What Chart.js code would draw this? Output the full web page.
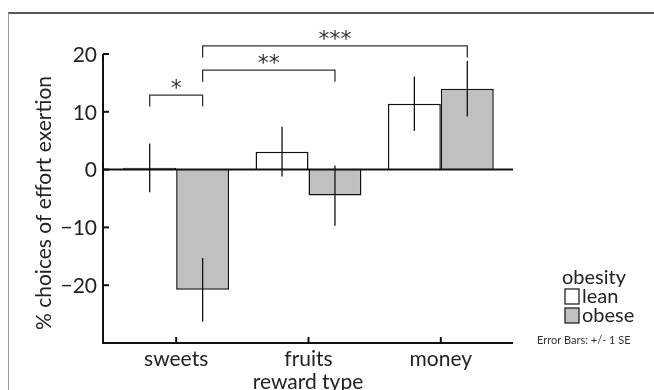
<!DOCTYPE html>
<html>
<head>
<meta charset="utf-8">
<script src="https://cdn.jsdelivr.net/npm/chart.js@4"></script>
<style>
  html, body { margin: 0; padding: 0; background: #fff; }
  #wrap { position: relative; width: 654px; height: 390px; overflow: hidden; }
  #frame { position: absolute; left: 8px; top: 12px; width: 700px; height: 400px;
           border-top: 2px solid #555; border-left: 1px solid #999; }
  canvas { position: absolute; left: 0; top: 0; }
</style>
</head>
<body>
<div id="wrap">
  <div id="frame"></div>
  <canvas id="chartCanvas" width="654" height="390"></canvas>
</div>
<script>
// values
const categories = ['sweets', 'fruits', 'money'];
const leanValues = [0.3, 3.1, 11.4];
const obeseValues = [-20.8, -4.5, 14.0];
const leanSE = [4.2, 4.3, 4.7];
const obeseSE = [5.5, 5.2, 4.8];
const yTicks = [20, 10, 0, -10, -20];
const seriesNames = ['lean', 'obese'];

const FONT = 'Lato, "Open Sans", sans-serif';
const AXIS_X = 103;   // y axis line
const AXIS_R = 513;   // right end of x axis

// significance brackets: [category, series] -> [category, series]
const brackets = [
  { from: [0, 0], to: [0, 1], top: 12.9, leg: 2.0, label: '*' },
  { from: [0, 1], to: [1, 1], top: 17.2, leg: 2.0, label: '**' },
  { from: [0, 1], to: [2, 1], top: 21.4, leg: 2.0, label: '***' }
];

const axesPlugin = {
  id: 'axesPlugin',
  afterDraw(chart) {
    const ctx = chart.ctx;
    const y = chart.scales.y;
    const area = chart.chartArea;
    const barX = (cat, s) => chart.getDatasetMeta(s).data[cat].x;

    ctx.save();
    ctx.strokeStyle = '#111';
    ctx.fillStyle = '#222';

    // error bars
    ctx.lineWidth = 1.3;
    [[leanValues, leanSE], [obeseValues, obeseSE]].forEach(([vals, se], s) => {
      vals.forEach((v, i) => {
        const x = barX(i, s);
        ctx.beginPath();
        ctx.moveTo(x, y.getPixelForValue(v + se[i]));
        ctx.lineTo(x, y.getPixelForValue(v - se[i]));
        ctx.stroke();
      });
    });

    // zero line
    ctx.lineWidth = 2;
    ctx.beginPath();
    ctx.moveTo(AXIS_X, y.getPixelForValue(0));
    ctx.lineTo(AXIS_R, y.getPixelForValue(0));
    ctx.stroke();

    // axes
    const top = y.getPixelForValue(yTicks[0]);
    const bottom = area.bottom;
    ctx.beginPath();
    ctx.moveTo(AXIS_X, top);
    ctx.lineTo(AXIS_X, bottom);
    ctx.lineTo(AXIS_R, bottom);
    ctx.stroke();

    // y ticks and labels
    ctx.font = '21px ' + FONT;
    ctx.textAlign = 'right';
    ctx.textBaseline = 'middle';
    yTicks.forEach(t => {
      const py = y.getPixelForValue(t);
      ctx.beginPath();
      ctx.moveTo(AXIS_X, py);
      ctx.lineTo(AXIS_X + 6, py);
      ctx.stroke();
      ctx.fillText(t < 0 ? '\u2212' + Math.abs(t) : String(t), AXIS_X - 6, py + 1);
    });

    // x ticks and labels
    ctx.textAlign = 'center';
    ctx.textBaseline = 'alphabetic';
    categories.forEach((c, i) => {
      const px = chart.scales.x.getPixelForValue(i);
      ctx.beginPath();
      ctx.moveTo(px, bottom);
      ctx.lineTo(px, bottom - 6);
      ctx.stroke();
      ctx.fillText(c, px, 366);
    });
    ctx.fillText('reward type', 308, 389);

    // y title
    ctx.save();
    ctx.translate(51, 203);
    ctx.rotate(-Math.PI / 2);
    ctx.textAlign = 'center';
    ctx.fillText('% choices of effort exertion', 0, 0);
    ctx.restore();

    // significance brackets
    ctx.lineWidth = 1.3;
    ctx.strokeStyle = '#333';
    brackets.forEach(b => {
      const x1 = barX(b.from[0], b.from[1]);
      const x2 = barX(b.to[0], b.to[1]);
      const yt = y.getPixelForValue(b.top);
      const yl = y.getPixelForValue(b.top - b.leg);
      ctx.beginPath();
      ctx.moveTo(x1, yl);
      ctx.lineTo(x1, yt);
      ctx.lineTo(x2, yt);
      ctx.lineTo(x2, yl);
      ctx.stroke();
      ctx.font = '22px "DejaVu Sans", sans-serif';
      ctx.textAlign = 'center';
      ctx.fillStyle = '#333';
      ctx.fillText(b.label, (x1 + x2) / 2, yt);
    });

    // legend
    ctx.fillStyle = '#222';
    ctx.textAlign = 'left';
    ctx.font = '20px ' + FONT;
    ctx.fillText('obesity', 562, 284);
    ctx.lineWidth = 1.3;
    ctx.strokeStyle = '#222';
    const fills = ['#ffffff', '#c0c0c0'];
    seriesNames.forEach((n, i) => {
      const by = 289 + i * 19;
      ctx.fillStyle = fills[i];
      ctx.fillRect(565, by, 14, 15);
      ctx.strokeRect(565, by, 14, 15);
      ctx.fillStyle = '#222';
      ctx.fillText(n, 582, by + 14);
    });
    ctx.font = '11px "Liberation Sans Narrow", ' + FONT;
    ctx.fillStyle = '#333';
    ctx.fillText('Error Bars: +/- 1 SE', 537, 344);
    ctx.restore();
  }
};

const ctx = document.getElementById('chartCanvas').getContext('2d');
new Chart(ctx, {
  type: 'bar',
  data: {
    labels: categories,
    datasets: [
      { label: seriesNames[0], data: leanValues, backgroundColor: '#ffffff',
        borderColor: '#111', borderWidth: 1.5 },
      { label: seriesNames[1], data: obeseValues, backgroundColor: '#c0c0c0',
        borderColor: '#111', borderWidth: 1.5 }
    ]
  },
  options: {
    responsive: false,
    animation: false,
    layout: { padding: { left: 110, right: 147, top: 54, bottom: 47 } },
    datasets: { bar: { categoryPercentage: 0.8, barPercentage: 1.0 } },
    plugins: { legend: { display: false }, tooltip: { enabled: false } },
    scales: {
      x: { display: false },
      y: { display: false, min: -30, max: 20 }
    }
  },
  plugins: [axesPlugin]
});
</script>
</body>
</html>
